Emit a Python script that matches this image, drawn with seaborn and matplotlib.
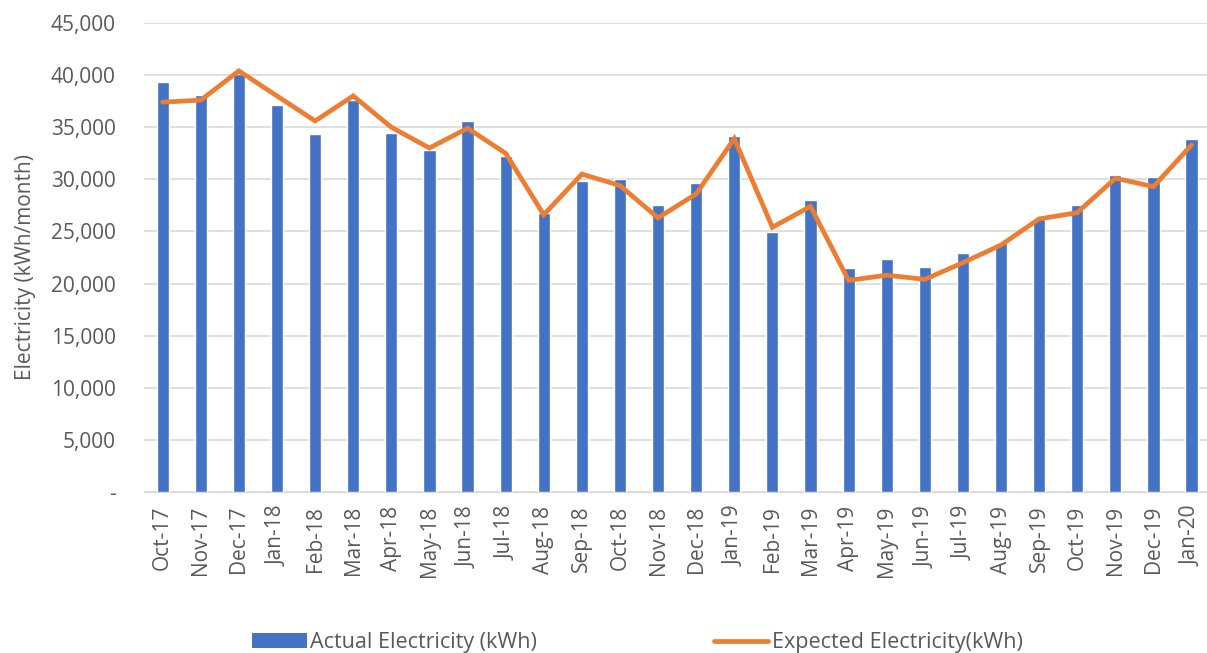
import numpy as np
import pandas as pd
import seaborn as sns
import matplotlib.pyplot as plt
from matplotlib.ticker import FuncFormatter
from matplotlib.patches import Patch
from matplotlib.lines import Line2D

months = ['Oct-17', 'Nov-17', 'Dec-17', 'Jan-18', 'Feb-18', 'Mar-18', 'Apr-18',
          'May-18', 'Jun-18', 'Jul-18', 'Aug-18', 'Sep-18', 'Oct-18', 'Nov-18',
          'Dec-18', 'Jan-19', 'Feb-19', 'Mar-19', 'Apr-19', 'May-19', 'Jun-19',
          'Jul-19', 'Aug-19', 'Sep-19', 'Oct-19', 'Nov-19', 'Dec-19', 'Jan-20']

actual = [39300, 38100, 40100, 37100, 34300, 37600, 34400, 32800, 35600, 32200,
          26800, 29800, 30000, 27500, 29600, 34200, 24900, 28000, 21500, 22400,
          21600, 22900, 23900, 26200, 27500, 30400, 30200, 33900]

expected = [37400, 37600, 40400, 38000, 35600, 38000, 35000, 33000, 34900, 32500,
            26600, 30500, 29400, 26300, 28600, 33900, 25400, 27400, 20300, 20800,
            20400, 22000, 23700, 26200, 26800, 30100, 29300, 33300]

df = pd.DataFrame({'Month': months, 'Actual': actual, 'Expected': expected})

blue = '#4472C4'
orange = '#ED7D31'
grey = '#595959'
fs = 15

sns.set_style('white')
plt.rcParams['font.family'] = ['Open Sans', 'DejaVu Sans']

fig = plt.figure(figsize=(12.07, 6.53), dpi=100)
ax = fig.add_axes([0.119, 0.2466, 0.884, 0.7182])

sns.barplot(data=df, x='Month', y='Actual', color=blue, width=0.32,
            saturation=1, ax=ax, zorder=2)
sns.lineplot(data=df, x='Month', y='Expected', color=orange, linewidth=3.4,
             ax=ax, zorder=3, solid_capstyle='round', solid_joinstyle='miter')

ax.set_ylim(0, 45000)
ax.set_yticks(range(0, 45001, 5000))
ax.yaxis.set_major_formatter(FuncFormatter(lambda v, p: '-' if v == 0 else f'{int(v):,}'))
ax.set_xlim(-0.5, len(months) - 0.5)
ax.grid(axis='y', color='#D9D9D9', linewidth=1.2, zorder=0)
ax.set_axisbelow(True)
for s in ['top', 'right', 'left']:
    ax.spines[s].set_visible(False)
ax.spines['bottom'].set_color('#D9D9D9')
ax.spines['bottom'].set_zorder(1)

ax.tick_params(axis='x', rotation=90, labelsize=fs, labelcolor=grey, length=0, pad=10)
ax.tick_params(axis='y', labelsize=fs, labelcolor=grey, length=0, pad=20)
ax.set_xlabel('')
ax.set_ylabel('Electricity (kWh/month)', fontsize=fs, color=grey, labelpad=11, y=0.48)

handles = [Patch(facecolor=blue, edgecolor='none'),
           Line2D([], [], color=orange, linewidth=3.4, solid_capstyle='round')]
fig.legend(handles, ['Actual Electricity (kWh)', 'Expected Electricity(kWh)'],
           loc='center', bbox_to_anchor=(0.528, 0.016), ncol=2, frameon=False,
           fontsize=15.5, labelcolor=grey, handlelength=2.55, handletextpad=0.15,
           columnspacing=8.2)

plt.savefig('out.png', dpi=100)
